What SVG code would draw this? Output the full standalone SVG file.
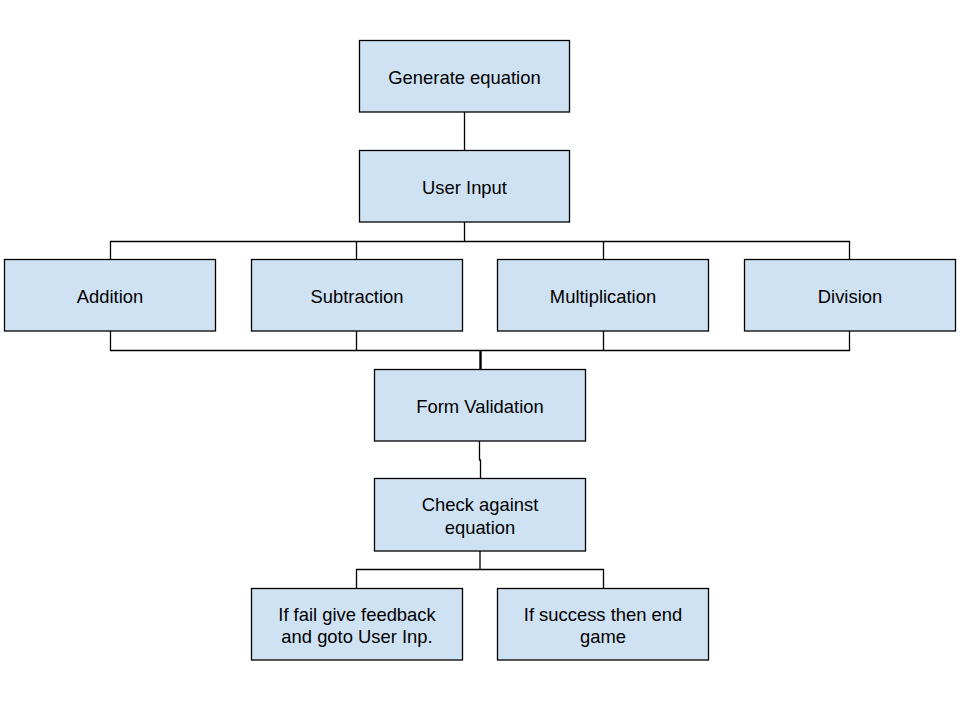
<svg xmlns="http://www.w3.org/2000/svg" width="960" height="720" viewBox="0 0 960 720">
<style>
.box{fill:#cfe2f3;stroke:#000;stroke-width:1.3}
.lbl{font-family:"Liberation Sans",Arial,sans-serif;font-size:18.4px;fill:#000;text-anchor:middle}
.conn{fill:none;stroke:#000;stroke-width:1.3}
</style>
<rect width="960" height="720" fill="#fff"/>
<g id="connectors" class="conn">
<path d="M464.5 112V150"/>
<path d="M464.5 222V241.5M110.5 259.5V241.5H849.5V259.5M356.5 241.5V259.5M603.5 241.5V259.5"/>
<path d="M110.5 331V350.5H849.5V331M356.5 331V350.5M603.5 331V350.5"/>
<path d="M480.5 350.5V369" stroke-width="2.4"/>
<path d="M479.5 441V460H480.5V478"/>
<path d="M480 551V569.5M356.5 588V569.5H603.5V588"/>
</g>
<g id="n1"><rect class="box" x="359.5" y="40.5" width="210" height="71.5"/><text class="lbl" x="464.5" y="83.5">Generate equation</text></g>
<g id="n2"><rect class="box" x="359.5" y="150.5" width="210" height="71.5"/><text class="lbl" x="464.5" y="193.5">User Input</text></g>
<g id="n3"><rect class="box" x="4.5" y="259.5" width="211" height="71.5"/><text class="lbl" x="110" y="302.5">Addition</text></g>
<g id="n4"><rect class="box" x="251.5" y="259.5" width="211" height="71.5"/><text class="lbl" x="357" y="302.5">Subtraction</text></g>
<g id="n5"><rect class="box" x="497.5" y="259.5" width="211" height="71.5"/><text class="lbl" x="603" y="302.5">Multiplication</text></g>
<g id="n6"><rect class="box" x="744.5" y="259.5" width="211" height="71.5"/><text class="lbl" x="850" y="302.5">Division</text></g>
<g id="n7"><rect class="box" x="374.5" y="369.5" width="211" height="71.5"/><text class="lbl" x="480" y="412.5">Form Validation</text></g>
<g id="n8"><rect class="box" x="374.5" y="478.5" width="211" height="72.5"/><text class="lbl" x="480" y="511">Check against</text><text class="lbl" x="480" y="533.5">equation</text></g>
<g id="n9"><rect class="box" x="251.5" y="588.5" width="211" height="71.5"/><text class="lbl" x="357" y="620.5">If fail give feedback</text><text class="lbl" x="357" y="643">and goto User Inp.</text></g>
<g id="n10"><rect class="box" x="497.5" y="588.5" width="211" height="71.5"/><text class="lbl" x="603" y="620.5">If success then end</text><text class="lbl" x="603" y="643">game</text></g>
</svg>
